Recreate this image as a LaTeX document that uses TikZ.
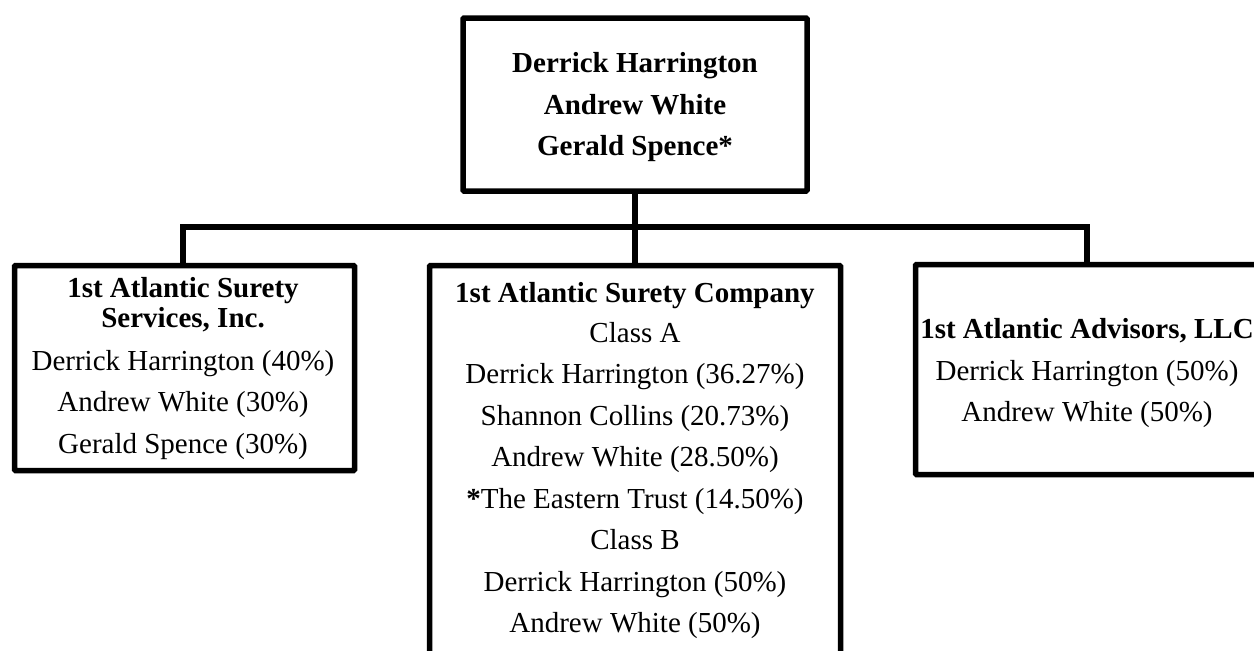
\documentclass[tikz,border=0pt]{standalone}
\usepackage{fontspec}
\setmainfont{Liberation Serif}
\begin{document}
\begin{tikzpicture}[x=1pt,y=-1pt,
  box/.style={draw=black,line width=5.5pt,rectangle,inner sep=0pt,outer sep=0pt,rounded corners=1pt},
  conn/.style={draw=black,line width=5.5pt},
  txt/.style={anchor=base,inner sep=0pt,font=\fontsize{29}{33}\selectfont},
  btxt/.style={txt,font=\fontsize{29}{33}\selectfont\bfseries}]
\useasboundingbox (0,0) rectangle (1254,651);
\clip (0,0) rectangle (1254,651);
% boxes
\node[box,minimum width=344pt,minimum height=173pt] (top) at (635,104.5) {};
\node[box,minimum width=340pt,minimum height=205pt] (lbox) at (184.5,368) {};
\node[box,minimum width=411pt,minimum height=404pt] (cbox) at (635,467.5) {};
\node[box,minimum width=355pt,minimum height=210pt] (rbox) at (1093,369.5) {};
% connectors
\coordinate (bl) at (183,227);
\coordinate (br) at (1087,227);
\draw[conn] (top.south) -- (cbox.north);
\draw[conn,line join=miter] (lbox.north -| bl) -- (bl) -- (br) -- (rbox.north -| br);
% top text
\node[btxt] (t1) at (635,72) {Derrick Harrington};
\node[btxt] (t2) at (635,114) {Andrew White};
\node[btxt] (t3) at (635,155) {Gerald Spence*};
% left text
\node[btxt] (l1) at (183,297) {1st Atlantic Surety};
\node[btxt] (l2) at (183,327) {Services, Inc.};
\node[txt] (l3) at (183,370) {Derrick Harrington (40\%)};
\node[txt] (l4) at (183,411.5) {Andrew White (30\%)};
\node[txt] (l5) at (183,453) {Gerald Spence (30\%)};
% center text
\node[btxt] (c1) at (635,302) {1st Atlantic Surety Company};
\node[txt] (c2) at (635,342) {Class A};
\node[txt] (c3) at (635,383.5) {Derrick Harrington (36.27\%)};
\node[txt] (c4) at (635,425) {Shannon Collins (20.73\%)};
\node[txt] (c5) at (635,466.5) {Andrew White (28.50\%)};
\node[txt] (c6) at (635,508) {\textbf{*}The Eastern Trust (14.50\%)};
\node[txt] (c7) at (635,549.5) {Class B};
\node[txt] (c8) at (635,591) {Derrick Harrington (50\%)};
\node[txt] (c9) at (635,632.5) {Andrew White (50\%)};
% right text
\node[btxt] (r1) at (1087,338) {1st Atlantic Advisors, LLC};
\node[txt] (r2) at (1087,380) {Derrick Harrington (50\%)};
\node[txt] (r3) at (1087,421) {Andrew White (50\%)};
\end{tikzpicture}
\end{document}
